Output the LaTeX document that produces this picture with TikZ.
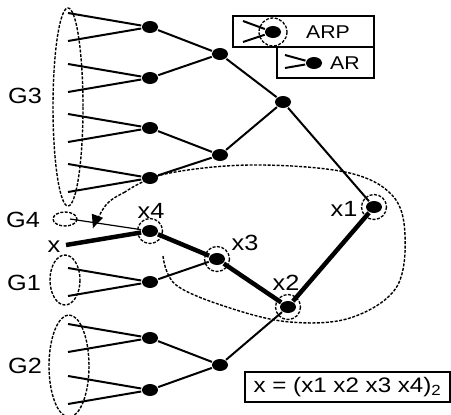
\documentclass[tikz,border=0pt]{standalone}
\usepackage{fontspec}
\setmainfont{Liberation Sans}[FakeStretch=1.15]
\usetikzlibrary{shapes.geometric,arrows.meta}

\tikzset{
    ar/.style={ellipse, fill=black, minimum width=16pt, minimum height=12pt, inner sep=0pt},
    ring/.style={line width=1.3pt, dash pattern=on 3pt off 1.5pt},
    grp/.style={line width=1.4pt, dash pattern=on 3pt off 1.5pt},
    lbl/.style={font=\fontsize{22}{22}\selectfont, inner sep=0pt},
    key/.style={font=\fontsize{18.5}{18.5}\selectfont, inner sep=0pt},
    route/.style={line width=4.5pt}
}

\begin{document}
\begin{tikzpicture}[x=1pt, y=-1pt, line width=2pt]
\useasboundingbox (0,0) rectangle (451,415);

% routers of the upper group
\node[ar] (g3a) at (150,27) {};
\node[ar] (g3b) at (150,78) {};
\node[ar] (g3c) at (150,128) {};
\node[ar] (g3d) at (150,178) {};
\node[ar] (g3e) at (220,54) {};
\node[ar] (g3f) at (220,155) {};
\node[ar] (g3g) at (283,102) {};
% lower routers
\node[ar] (g1a) at (150,282) {};
\node[ar] (g2a) at (150,338) {};
\node[ar] (g2b) at (150,390) {};
\node[ar] (g2c) at (220,365) {};
% proxies on the path
\node[ar] (x1) at (374,207) {};
\node[ar] (x2) at (288,307) {};
\node[ar] (x3) at (217,259) {};
\node[ar] (x4) at (150,231) {};
\foreach \n in {x1,x2,x3,x4}
    \draw[ring] (\n) circle (12.5);

% hosts hanging off each leaf router
\foreach \n/\y in {g3a/27,g3b/78,g3c/128,g3d/178,g1a/282,g2a/338,g2b/390} {
    \coordinate (\n-u) at (68,\y-14);
    \coordinate (\n-d) at (68,\y+14);
    \draw (\n-u) -- (\n) -- (\n-d);
}

\draw (g3a) -- (g3e) -- (g3b);
\draw (g3c) -- (g3f) -- (g3d);
\draw (g3e) -- (g3g) -- (g3f);
\draw (g3g) -- (x1);
\draw (g1a) -- (x3);
\draw (g2a) -- (g2c) -- (g2b);
\draw (g2c) -- (x2);

% groups
\draw[grp] (68,107) ellipse (15 and 99);
\draw[grp] (65,219) ellipse (12 and 7);
\draw[grp] (65,280) ellipse (15 and 25);
\draw[grp] (69,366) ellipse (20 and 51);
\node[lbl] (n3) at (25,96) {G3};
\node[lbl] (n4) at (23,220) {G4};
\node[lbl] (n1) at (24,283) {G1};
\node[lbl] (n2) at (25,366) {G2};

% address path
\coordinate (xs) at (66,245);
\coordinate (g4e) at (70,219);
\draw[line width=1.2pt] (g4e) -- (x4);
\draw[route] (xs) -- (x4) -- (x3) -- (x2) -- (x1);
\node[lbl] (xl) at (54,247) {x};
\node[lbl] (l4) at (151,211) {x4};
\node[lbl] (l3) at (245,243) {x3};
\node[lbl] (l2) at (286,283) {x2};
\node[lbl] (l1) at (344,209) {x1};

% lookup loop, ending on the G4 link
\coordinate (lp) at (125,192);
\coordinate (lq) at (93,228);
\draw[grp] plot[smooth, tension=0.6] coordinates {
    (163,256) (176,285) (230,308) (290,322) (350,318) (396,288) (405,235)
    (392,195) (345,172) (250,165) (165,174) (125,192)};
\draw[grp] (lp) .. controls (106,202) .. (lq);
\fill[rotate around={-20:(lq)}] (lq) -- ++(-6,-13) -- ++(12,0) -- cycle;

% legend
\node[draw, line width=2pt, minimum width=141pt, minimum height=31pt] (kp) at (303.5,31.5) {};
\node[draw, line width=2pt, minimum width=97pt, minimum height=31pt] (ka) at (325.5,62.5) {};
\node[ar] (kpd) at (273,32) {};
\draw[ring] (kpd) circle (14);
\coordinate (kp1) at (243,21);
\coordinate (kp2) at (243,42);
\draw (kp1) -- (kpd) -- (kp2);
\node[key] at (328,32) {ARP};
\node[ar] (kad) at (314,63) {};
\coordinate (ka1) at (285,55);
\coordinate (ka2) at (285,68);
\draw (ka1) -- (kad) -- (ka2);
\node[key] at (345,63) {AR};

\node[draw, line width=2pt, font=\fontsize{21}{21}\selectfont, minimum width=205pt, minimum height=30pt] (eq) at (347.5,387)
    {x = (x1 x2 x3 x4)\textsubscript{2}};
\end{tikzpicture}
\end{document}
